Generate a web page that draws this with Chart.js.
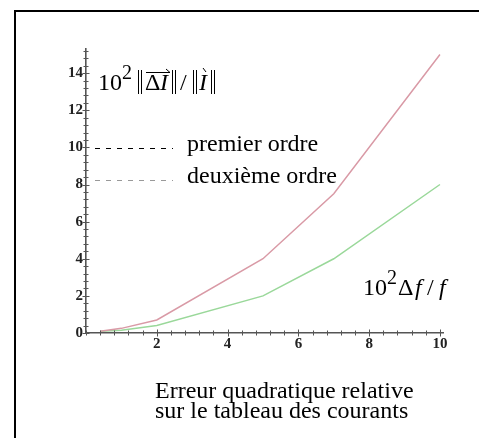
<!DOCTYPE html>
<html><head><meta charset="utf-8">
<script src="https://cdn.jsdelivr.net/npm/chart.js@4"></script>
<style>
html,body{margin:0;padding:0;background:#fff;overflow:hidden;width:479px;height:438px}
#frame{position:absolute;left:14px;top:10px;width:700px;height:700px;border:2px solid #000;box-sizing:border-box}
#c{position:absolute;left:0;top:0}
</style></head>
<body><div id="frame"></div><canvas id="c" width="479" height="438"></canvas>
<script>
const xValues = [0.4, 1, 2, 5, 7, 10];
const premierOrdre = [0.1, 0.25, 0.7, 4, 7.5, 15];
const deuxiemeOrdre = [0.1, 0.15, 0.4, 2, 4, 8];
const seriesNames = ['premier ordre', 'deuxième ordre'];
const xTickLabels = [2, 4, 6, 8, 10];
const yTickLabels = [0, 2, 4, 6, 8, 10, 12, 14];
const minorStep = 0.4;
const captionLines = ['Erreur quadratique relative', 'sur le tableau des courants'];

const SERIF = '"Liberation Serif", "DejaVu Serif", serif';
const tickFont = {family: SERIF, size: 15, weight: 'bold'};

function isLabel(v, list){ return list.some(t => Math.abs(t - v) < 1e-6); }
function stepTicks(last){
  const out = [];
  for (let k = 0; k * minorStep <= last + 1e-9; k++) out.push({value: Math.round(k * minorStep * 1000) / 1000});
  return out;
}

const overlay = {
  id: 'overlay',
  afterDraw(chart){
    const ctx = chart.ctx;
    const xs = chart.scales.x, ys = chart.scales.y;
    const x0 = xs.getPixelForValue(0), y0 = ys.getPixelForValue(0);
    ctx.save();
    ctx.strokeStyle = '#555'; ctx.lineWidth = 1;
    xs.ticks.forEach(t => {
      const p = Math.round(xs.getPixelForValue(t.value)) + 0.5;
      const L = isLabel(t.value, xTickLabels) ? 3.5 : 2.5;
      ctx.beginPath(); ctx.moveTo(p, y0 - L); ctx.lineTo(p, y0 + L); ctx.stroke();
    });
    ys.ticks.forEach(t => {
      const p = Math.round(ys.getPixelForValue(t.value)) + 0.5;
      const L = isLabel(t.value, yTickLabels) ? 3.5 : 2.5;
      ctx.beginPath(); ctx.moveTo(x0 - L, p); ctx.lineTo(x0 + L, p); ctx.stroke();
    });
    // legend
    ctx.lineWidth = 1.2;
    ctx.setLineDash([5, 6]);
    ctx.strokeStyle = '#000';
    ctx.beginPath(); ctx.moveTo(95, 148.5); ctx.lineTo(173, 148.5); ctx.stroke();
    ctx.strokeStyle = '#999';
    ctx.beginPath(); ctx.moveTo(95, 180.5); ctx.lineTo(173, 180.5); ctx.stroke();
    ctx.setLineDash([]);
    ctx.fillStyle = '#000';
    ctx.textBaseline = 'alphabetic'; ctx.textAlign = 'left';
    ctx.font = '24px ' + SERIF;
    ctx.fillText(seriesNames[0], 187, 151);
    ctx.fillText(seriesNames[1], 187, 183);
    // caption
    ctx.fillText(captionLines[0], 155, 398);
    ctx.fillText(captionLines[1], 155, 418);
    // x-axis title: 10^2 Δf/f
    ctx.font = '24px ' + SERIF;
    ctx.fillText('10', 363, 295);
    ctx.font = '20px ' + SERIF;
    ctx.fillText('2', 387, 284);
    ctx.font = '24px ' + SERIF;
    ctx.fillText('Δ', 398, 295);
    ctx.font = 'italic 24px ' + SERIF;
    ctx.fillText('f', 415, 295);
    ctx.font = '24px ' + SERIF;
    ctx.fillText('/', 427, 295);
    ctx.font = 'italic 24px ' + SERIF;
    ctx.fillText('f', 439, 295);
    // y-axis title: 10^2 ||ΔI|| / ||I||
    ctx.font = '24px ' + SERIF;
    ctx.fillText('10', 98, 90);
    ctx.font = '20px ' + SERIF;
    ctx.fillText('2', 122, 79);
    const bars = (x) => {
      ctx.lineWidth = 1;
      ctx.beginPath();
      ctx.moveTo(x + 0.5, 70); ctx.lineTo(x + 0.5, 94);
      ctx.moveTo(x + 3.5, 70); ctx.lineTo(x + 3.5, 94);
      ctx.stroke();
    };
    ctx.strokeStyle = '#000';
    bars(138);
    ctx.font = '24px ' + SERIF;
    ctx.fillText('Δ', 145, 90);
    ctx.font = 'italic 24px ' + SERIF;
    ctx.fillText('I', 160, 90);
    ctx.lineWidth = 1;
    ctx.beginPath(); ctx.moveTo(146, 72.5); ctx.lineTo(170, 72.5); ctx.lineTo(166, 69); ctx.stroke();
    bars(172);
    ctx.font = '24px ' + SERIF;
    ctx.fillText('/', 180, 90);
    bars(193);
    ctx.font = 'italic 24px ' + SERIF;
    ctx.fillText('I', 199, 90);
    ctx.beginPath(); ctx.moveTo(203, 68); ctx.lineTo(206, 72); ctx.stroke();
    bars(211);
    ctx.restore();
  }
};

new Chart(document.getElementById('c'), {
  type: 'line',
  data: {
    datasets: [
      {label: seriesNames[0], data: xValues.map((x, i) => ({x, y: premierOrdre[i]})),
       borderColor: '#d99aa6', borderWidth: 1.5, pointRadius: 0, tension: 0, fill: false},
      {label: seriesNames[1], data: xValues.map((x, i) => ({x, y: deuxiemeOrdre[i]})),
       borderColor: '#9ad89a', borderWidth: 1.5, pointRadius: 0, tension: 0, fill: false}
    ]
  },
  options: {
    responsive: false, animation: false, devicePixelRatio: 1,
    layout: {padding: {left: 0, top: 49, right: 35.5, bottom: 0}},
    plugins: {legend: {display: false}, tooltip: {enabled: false}},
    scales: {
      x: {
        type: 'linear', min: 0, max: 10.1,
        afterFit(s){ s.height = 105; },
        afterBuildTicks(s){ s.ticks = stepTicks(10); },
        grid: {display: false, drawTicks: false, tickLength: 0},
        border: {display: true, color: '#555', width: 1.6},
        ticks: {autoSkip: false, maxRotation: 0, padding: 2, color: '#222', font: tickFont,
          callback: (v) => isLabel(v, xTickLabels) ? String(Math.round(v)) : ''}
      },
      y: {
        type: 'linear', min: 0, max: 15.3,
        afterFit(s){ s.width = 86; },
        afterBuildTicks(s){ s.ticks = stepTicks(15.2); },
        grid: {display: false, drawTicks: false, tickLength: 0},
        border: {display: true, color: '#555', width: 1.6},
        ticks: {autoSkip: false, padding: 3, color: '#222', font: tickFont,
          callback: (v) => isLabel(v, yTickLabels) ? String(Math.round(v)) : ''}
      }
    }
  },
  plugins: [overlay]
});
</script>
</body></html>
